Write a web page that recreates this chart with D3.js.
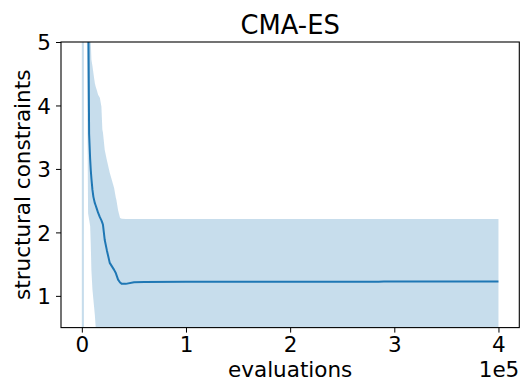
<!DOCTYPE html>
<html>
<head>
<meta charset="utf-8">
<script src="https://cdn.jsdelivr.net/npm/d3@7"></script>
<style>
  html, body { margin: 0; padding: 0; background: #fff; }
  svg { display: block; font-family: "DejaVu Sans", sans-serif; }
</style>
</head>
<body>
<svg id="chart" width="521" height="383"></svg>
<script>
// Evaluations at which the population statistics were recorded
const evaluations = [0, 4000, 4800, 6000, 7000, 8000, 8600, 9200, 10200, 11100,
  12500, 13400, 14400, 15600, 17300, 18800, 19700, 20300, 22000, 24000,
  26800, 31000, 32600, 33200, 34800, 36700, 38400, 42200, 50100, 60000,
  100000, 200000, 285000, 290000, 400000];

// Mean number of violated structural constraints
const meanConstraints = [1000, 2500, 12, 6.0, 3.55, 3.15, 2.98, 2.85, 2.67, 2.56,
  2.46, 2.42, 2.37, 2.31, 2.24, 2.19, 2.15, 2.12, 1.88, 1.72,
  1.52, 1.41, 1.36, 1.33, 1.255, 1.21, 1.189, 1.189, 1.213, 1.218,
  1.221, 1.222, 1.222, 1.226, 1.226];

// Lower edge of the spread band
const lowerBand = [-2000, 2000, 5.2, 2.3, 2.2, 2.1, 1.8, 1.4, 1.1, 0.94,
  0.7, 0.48, 0.3, 0.25, 0.24, 0.24, 0.24, 0.24, 0.24, 0.23,
  0.23, 0.23, 0.23, 0.23, 0.23, 0.23, 0.23, 0.23, 0.23, 0.23,
  0.23, 0.23, 0.23, 0.23, 0.23];

// Upper edge of the spread band
const upperBand = [4000, 3000, 20, 10, 6.0, 5.2, 5.0, 4.72, 4.62, 4.51,
  4.35, 4.29, 4.24, 4.17, 4.12, 3.98, 3.62, 3.57, 3.30, 3.14,
  2.94, 2.70, 2.55, 2.51, 2.35, 2.228, 2.217, 2.213, 2.212, 2.212,
  2.212, 2.212, 2.212, 2.213, 2.213];

const xTicks = [0, 100000, 200000, 300000, 400000];
const xTickLabels = ["0", "1", "2", "3", "4"];
const yTicks = [1, 2, 3, 4, 5];

const data = evaluations.map((e, i) => ({
  x: e, m: meanConstraints[i], lo: lowerBand[i], hi: upperBand[i]
}));

const svg = d3.select("#chart");
const plotLeft = 61, plotRight = 519.3, plotTop = 42, plotBottom = 327.6;

const x = d3.scaleLinear().domain([-20000, 420000]).range([plotLeft, plotRight]);
const y = d3.scaleLinear().domain([0.5, 5]).range([plotBottom, plotTop]);

svg.append("defs").append("clipPath").attr("id", "plot-clip")
  .append("rect")
  .attr("x", plotLeft).attr("y", plotTop)
  .attr("width", plotRight - plotLeft).attr("height", plotBottom - plotTop);

const plot = svg.append("g").attr("clip-path", "url(#plot-clip)");

// Spread band
plot.append("path")
  .datum(data)
  .attr("fill", "#1f77b4")
  .attr("fill-opacity", 0.25)
  .attr("d", d3.area().x(d => x(d.x)).y0(d => y(d.lo)).y1(d => y(d.hi)));

// Mean curve
plot.append("path")
  .datum(data)
  .attr("fill", "none")
  .attr("stroke", "#1f77b4")
  .attr("stroke-width", 2)
  .attr("stroke-linejoin", "round")
  .attr("d", d3.line().x(d => x(d.x)).y(d => y(d.m)));

// Axes
const fontSize = 21.5;
const xAxis = svg.append("g")
  .attr("transform", `translate(0,${plotBottom})`)
  .call(d3.axisBottom(x).tickValues(xTicks)
    .tickFormat((d, i) => xTickLabels[i])
    .tickSizeInner(5).tickSizeOuter(0).tickPadding(4));
const yAxis = svg.append("g")
  .attr("transform", `translate(${plotLeft},0)`)
  .call(d3.axisLeft(y).tickValues(yTicks)
    .tickFormat(d3.format("d"))
    .tickSizeInner(5).tickSizeOuter(0).tickPadding(5));

[xAxis, yAxis].forEach(g => {
  g.select(".domain").remove();
  g.selectAll(".tick line").attr("stroke", "#000").attr("stroke-width", 1);
  g.selectAll(".tick text")
    .attr("fill", "#000")
    .style("font-family", "DejaVu Sans")
    .style("font-size", fontSize + "px");
});
yAxis.selectAll(".tick text").attr("dy", "0.36em");

// Frame
svg.append("rect")
  .attr("x", plotLeft).attr("y", plotTop)
  .attr("width", plotRight - plotLeft).attr("height", plotBottom - plotTop)
  .attr("fill", "none").attr("stroke", "#000").attr("stroke-width", 1.1);

// Titles and labels
svg.append("text")
  .attr("x", (plotLeft + plotRight) / 2).attr("y", 34)
  .attr("text-anchor", "middle")
  .style("font-size", "25.8px")
  .text("CMA-ES");

svg.append("text")
  .attr("x", (plotLeft + plotRight) / 2).attr("y", 377)
  .attr("text-anchor", "middle")
  .style("font-size", fontSize + "px")
  .text("evaluations");

svg.append("text")
  .attr("x", plotRight).attr("y", 377)
  .attr("text-anchor", "end")
  .style("font-size", fontSize + "px")
  .text("1e5");

svg.append("text")
  .attr("transform", `translate(30,${(plotTop + plotBottom) / 2}) rotate(-90)`)
  .attr("text-anchor", "middle")
  .style("font-size", fontSize + "px")
  .text("structural constraints");
</script>
</body>
</html>
